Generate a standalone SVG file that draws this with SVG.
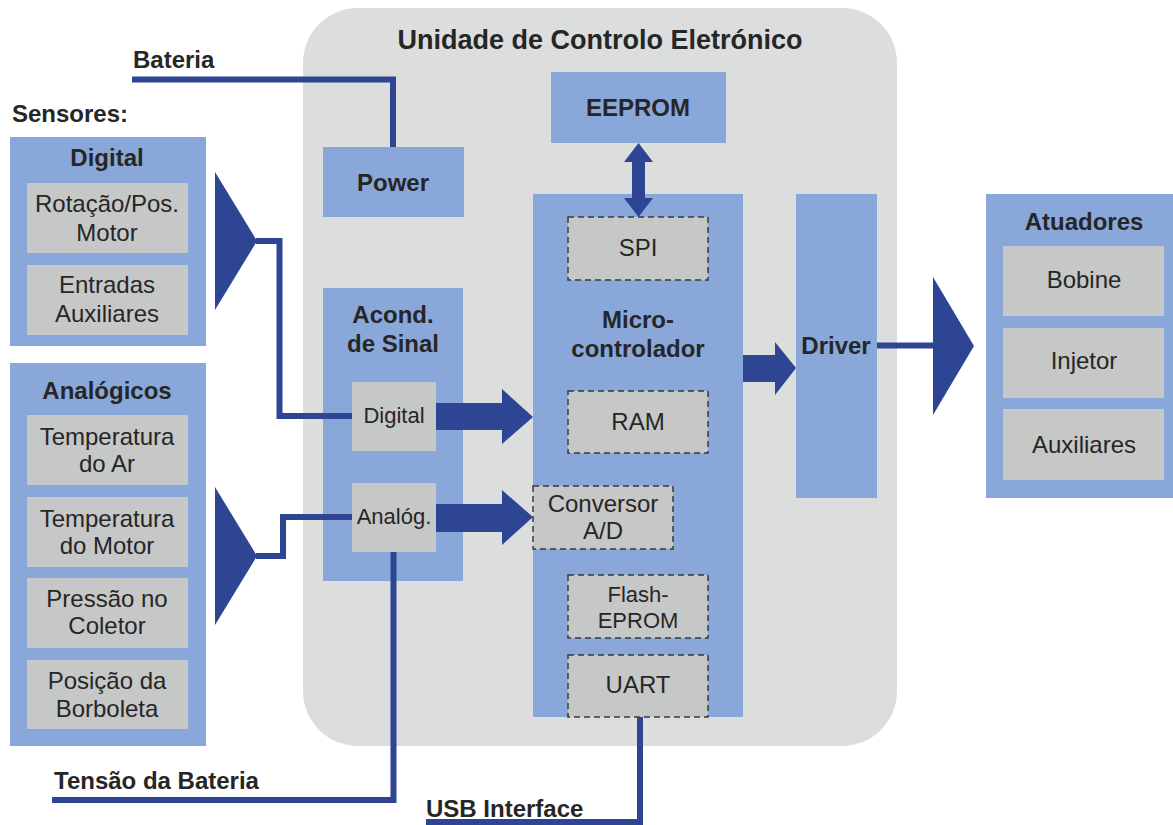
<svg xmlns="http://www.w3.org/2000/svg" width="1173" height="825" viewBox="0 0 1173 825">
  <style>
    .blue { fill: #89a8d9; }
    .gray { fill: #c6c7c7; }
    .dash { fill: #c6c7c7; stroke: #3a3a3a; stroke-width: 1.5; stroke-dasharray: 6 4; }
    .t { font-family: "Liberation Sans", Arial, sans-serif; fill: #262626; text-anchor: middle; }
    .b { font-weight: bold; font-size: 24px; }
    .r { font-size: 24px; }
    .s { font-size: 22px; }
    .lbl { font-family: "Liberation Sans", Arial, sans-serif; font-weight: bold; font-size: 24px; fill: #262626; }
    .wire { fill: none; stroke: #2e4594; stroke-width: 6; }
    .fat { fill: #2e4594; }
  </style>

  <!-- ECU housing -->
  <g id="ecu">
    <rect x="303" y="8" width="594" height="738" rx="55" ry="55" fill="#dcdddd"/>
    <text class="t b" x="600" y="49" style="font-size:27px" textLength="405" lengthAdjust="spacingAndGlyphs">Unidade de Controlo Eletrónico</text>
  </g>

  <!-- free labels -->
  <g id="labels">
    <text class="lbl" x="133" y="68">Bateria</text>
    <text class="lbl" x="12" y="122">Sensores:</text>
    <text class="lbl" x="54" y="789">Tensão da Bateria</text>
    <text class="lbl" x="426" y="817">USB Interface</text>
  </g>

  <!-- Digital sensors -->
  <g id="sensors-digital">
    <rect class="blue" x="10" y="137" width="196" height="209"/>
    <text class="t b" x="107" y="166">Digital</text>
    <rect class="gray" x="27" y="183" width="161" height="70"/>
    <text class="t r" x="107" y="212">Rotação/Pos.</text>
    <text class="t r" x="107" y="241">Motor</text>
    <rect class="gray" x="27" y="265" width="161" height="70"/>
    <text class="t r" x="107" y="293">Entradas</text>
    <text class="t r" x="107" y="322">Auxiliares</text>
  </g>

  <!-- Analog sensors -->
  <g id="sensors-analog">
    <rect class="blue" x="10" y="363" width="196" height="383"/>
    <text class="t b" x="107" y="399">Analógicos</text>
    <rect class="gray" x="27" y="415" width="161" height="70"/>
    <text class="t r" x="107" y="445">Temperatura</text>
    <text class="t r" x="107" y="472">do Ar</text>
    <rect class="gray" x="27" y="497" width="161" height="70"/>
    <text class="t r" x="107" y="527">Temperatura</text>
    <text class="t r" x="107" y="554">do Motor</text>
    <rect class="gray" x="27" y="578" width="161" height="70"/>
    <text class="t r" x="107" y="607">Pressão no</text>
    <text class="t r" x="107" y="634">Coletor</text>
    <rect class="gray" x="27" y="660" width="161" height="69"/>
    <text class="t r" x="107" y="689">Posição da</text>
    <text class="t r" x="107" y="717">Borboleta</text>
  </g>

  <!-- Power supply -->
  <g id="power">
    <rect class="blue" x="323" y="147" width="141" height="70"/>
    <text class="t b" x="393" y="191">Power</text>
  </g>

  <!-- EEPROM -->
  <g id="eeprom">
    <rect class="blue" x="551" y="72" width="175" height="71"/>
    <text class="t b" x="638" y="116">EEPROM</text>
  </g>

  <!-- Signal conditioning -->
  <g id="acond">
    <rect class="blue" x="323" y="288" width="140" height="293"/>
    <text class="t b" x="393" y="323">Acond.</text>
    <text class="t b" x="393" y="352">de Sinal</text>
    <rect class="gray" x="352" y="382" width="84" height="69"/>
    <text class="t s" x="394" y="423">Digital</text>
    <rect class="gray" x="352" y="483" width="84" height="69"/>
    <text class="t s" x="394" y="524">Analóg.</text>
  </g>

  <!-- Microcontroller -->
  <g id="micro">
    <rect class="blue" x="533" y="194" width="210" height="523"/>
    <rect class="dash" x="568" y="217" width="140" height="63"/>
    <text class="t r" x="638" y="256">SPI</text>
    <text class="t b" x="638" y="328">Micro-</text>
    <text class="t b" x="638" y="357">controlador</text>
    <rect class="dash" x="568" y="391" width="140" height="62"/>
    <text class="t r" x="638" y="430">RAM</text>
    <rect class="dash" x="533" y="486" width="140" height="63"/>
    <text class="t r" x="603" y="512">Conversor</text>
    <text class="t r" x="603" y="539">A/D</text>
    <rect class="dash" x="568" y="575" width="140" height="63"/>
    <text class="t s" x="638" y="602">Flash-</text>
    <text class="t s" x="638" y="628">EPROM</text>
    <rect class="dash" x="568" y="655" width="140" height="62"/>
    <text class="t r" x="638" y="693">UART</text>
  </g>

  <!-- Driver -->
  <g id="driver">
    <rect class="blue" x="796" y="194" width="81" height="304"/>
    <text class="t b" x="836" y="354">Driver</text>
  </g>

  <!-- Actuators -->
  <g id="atuadores">
    <rect class="blue" x="986" y="194" width="195" height="304"/>
    <text class="t b" x="1084" y="230">Atuadores</text>
    <rect class="gray" x="1003" y="246" width="161" height="70"/>
    <text class="t r" x="1084" y="288">Bobine</text>
    <rect class="gray" x="1003" y="328" width="161" height="70"/>
    <text class="t r" x="1084" y="369">Injetor</text>
    <rect class="gray" x="1003" y="409" width="161" height="71"/>
    <text class="t r" x="1084" y="453">Auxiliares</text>
  </g>

  <!-- Connectors -->
  <g id="connectors">
    <!-- battery feed -->
    <polyline class="wire" points="132,79.5 393,79.5 393,147"/>
    <!-- digital sensor bus -->
    <polygon class="fat" points="215,172 257,241 215,310"/>
    <polyline class="wire" points="256,241 279.5,241 279.5,416 352,416"/>
    <!-- analog sensor bus -->
    <polygon class="fat" points="215,487 257,556 215,625"/>
    <polyline class="wire" points="256,556 283,556 283,517 352,517"/>
    <!-- battery voltage sense -->
    <polyline class="wire" points="52,800 393.5,800 393.5,552"/>
    <!-- USB -->
    <polyline class="wire" points="640,717 640,822 426,822"/>
    <!-- conditioning to microcontroller -->
    <polygon class="fat" points="436,403 502,403 502,389 533,417 502,444 502,430 436,430"/>
    <polygon class="fat" points="436,504 502,504 502,490 533,517 502,545 502,532 436,532"/>
    <!-- EEPROM <-> SPI -->
    <polygon class="fat" points="638.5,143 653,162 645,162 645,198 653,198 638.5,217 624,198 632,198 632,162 624,162"/>
    <!-- microcontroller to driver -->
    <polygon class="fat" points="743,355 775,355 775,342 796,368 775,395 775,382 743,382"/>
    <!-- driver to actuators -->
    <polyline class="wire" points="877,345.5 934,345.5"/>
    <polygon class="fat" points="933,277 974,346 933,415"/>
  </g>
</svg>
